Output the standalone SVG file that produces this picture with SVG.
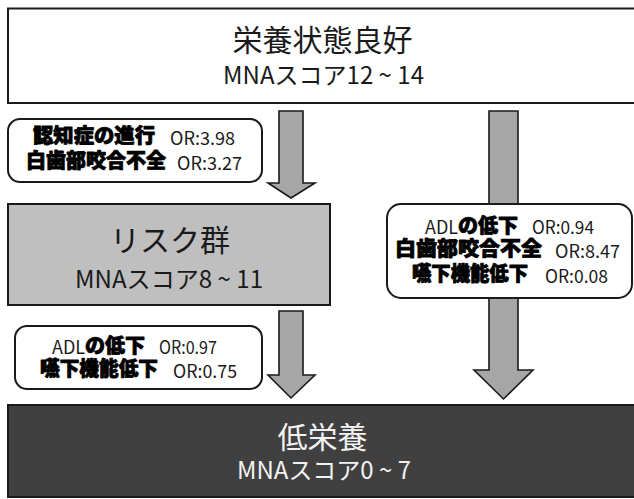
<svg xmlns="http://www.w3.org/2000/svg" width="634" height="499" viewBox="0 0 634 499">
<style>
.box{stroke:#1a1a1a;stroke-width:2}
.lbl{fill:#ffffff;stroke:#1a1a1a;stroke-width:2}
.arrow{fill:#a6a6a6;stroke:#1a1a1a;stroke-width:1.6;stroke-linejoin:miter}
.t{font-family:"Noto Sans CJK JP","Noto Sans",sans-serif;fill:#1a1a1a}
.title{font-size:30px}
.mna{font-size:24px}
.b{font-family:"Noto Sans CJK JP",sans-serif;font-weight:900;font-size:20px;fill:#000;stroke:#000;stroke-width:0.8;stroke-linejoin:round}
.r{font-family:"Noto Sans CJK JP","Noto Sans",sans-serif;font-size:18px;fill:#1a1a1a}
.w{fill:#f2f2f2}
</style>
<rect width="634" height="499" fill="#ffffff"/>
<g id="connectors">
<polygon class="arrow" points="279,111 303,111 303,183 315,183 291,198 268,183 279,183"/>
<polygon class="arrow" points="279,311 303,311 303,375 315,375 291,398 268,375 279,375"/>
<polygon class="arrow" points="489,111 518,111 518,370 533,370 503.5,399 474,370 489,370"/>
</g>
<g id="node-good">
<rect class="box" x="8" y="8.5" width="640" height="94.5" fill="#ffffff"/>
<text class="t title" x="322.5" y="51" text-anchor="middle">栄養状態良好</text>
<text class="t mna" x="223" y="84" textLength="201" lengthAdjust="spacingAndGlyphs">MNAスコア12 ~ 14</text>
</g>
<g id="node-risk">
<rect class="box" x="8" y="204" width="322" height="101" fill="#bfbfbf"/>
<text class="t" x="170" y="251" font-size="30" text-anchor="middle">リスク群</text>
<text class="t mna" x="75" y="288" textLength="188" lengthAdjust="spacingAndGlyphs">MNAスコア8 ~ 11</text>
</g>
<g id="node-low">
<rect class="box" x="8" y="405" width="640" height="92" fill="#404040"/>
<text class="t title w" x="322.5" y="448" text-anchor="middle">低栄養</text>
<text class="t mna w" x="237" y="479" textLength="174" lengthAdjust="spacingAndGlyphs">MNAスコア0 ~ 7</text>
</g>
<g id="label-good-risk">
<rect class="lbl" x="8" y="119" width="254" height="63" rx="12"/>
<text class="b" x="33" y="143" textLength="122" lengthAdjust="spacingAndGlyphs">認知症の進行</text>
<text class="r" x="170" y="145" textLength="65" lengthAdjust="spacingAndGlyphs">OR:3.98</text>
<text class="b" x="26" y="168" textLength="140" lengthAdjust="spacingAndGlyphs">白歯部咬合不全</text>
<text class="r" x="177" y="170" textLength="65" lengthAdjust="spacingAndGlyphs">OR:3.27</text>
</g>
<g id="label-good-low">
<rect class="lbl" x="387" y="204" width="245" height="94" rx="14"/>
<text class="r" x="425" y="234">ADL<tspan class="b" dy="-1">の低下</tspan></text>
<text class="r" x="532" y="234" textLength="62" lengthAdjust="spacingAndGlyphs">OR:0.94</text>
<text class="b" x="395" y="256" textLength="147" lengthAdjust="spacingAndGlyphs">白歯部咬合不全</text>
<text class="r" x="555" y="258" textLength="65" lengthAdjust="spacingAndGlyphs">OR:8.47</text>
<text class="b" x="412" y="281" textLength="116" lengthAdjust="spacingAndGlyphs">嚥下機能低下</text>
<text class="r" x="545" y="283" textLength="63" lengthAdjust="spacingAndGlyphs">OR:0.08</text>
</g>
<g id="label-risk-low">
<rect class="lbl" x="15" y="326" width="247" height="63" rx="12"/>
<text class="r" x="52" y="354">ADL<tspan class="b" dy="-1">の低下</tspan></text>
<text class="r" x="159" y="354" textLength="58" lengthAdjust="spacingAndGlyphs">OR:0.97</text>
<text class="b" x="40" y="376" textLength="118" lengthAdjust="spacingAndGlyphs">嚥下機能低下</text>
<text class="r" x="173" y="378" textLength="64" lengthAdjust="spacingAndGlyphs">OR:0.75</text>
</g>
</svg>
